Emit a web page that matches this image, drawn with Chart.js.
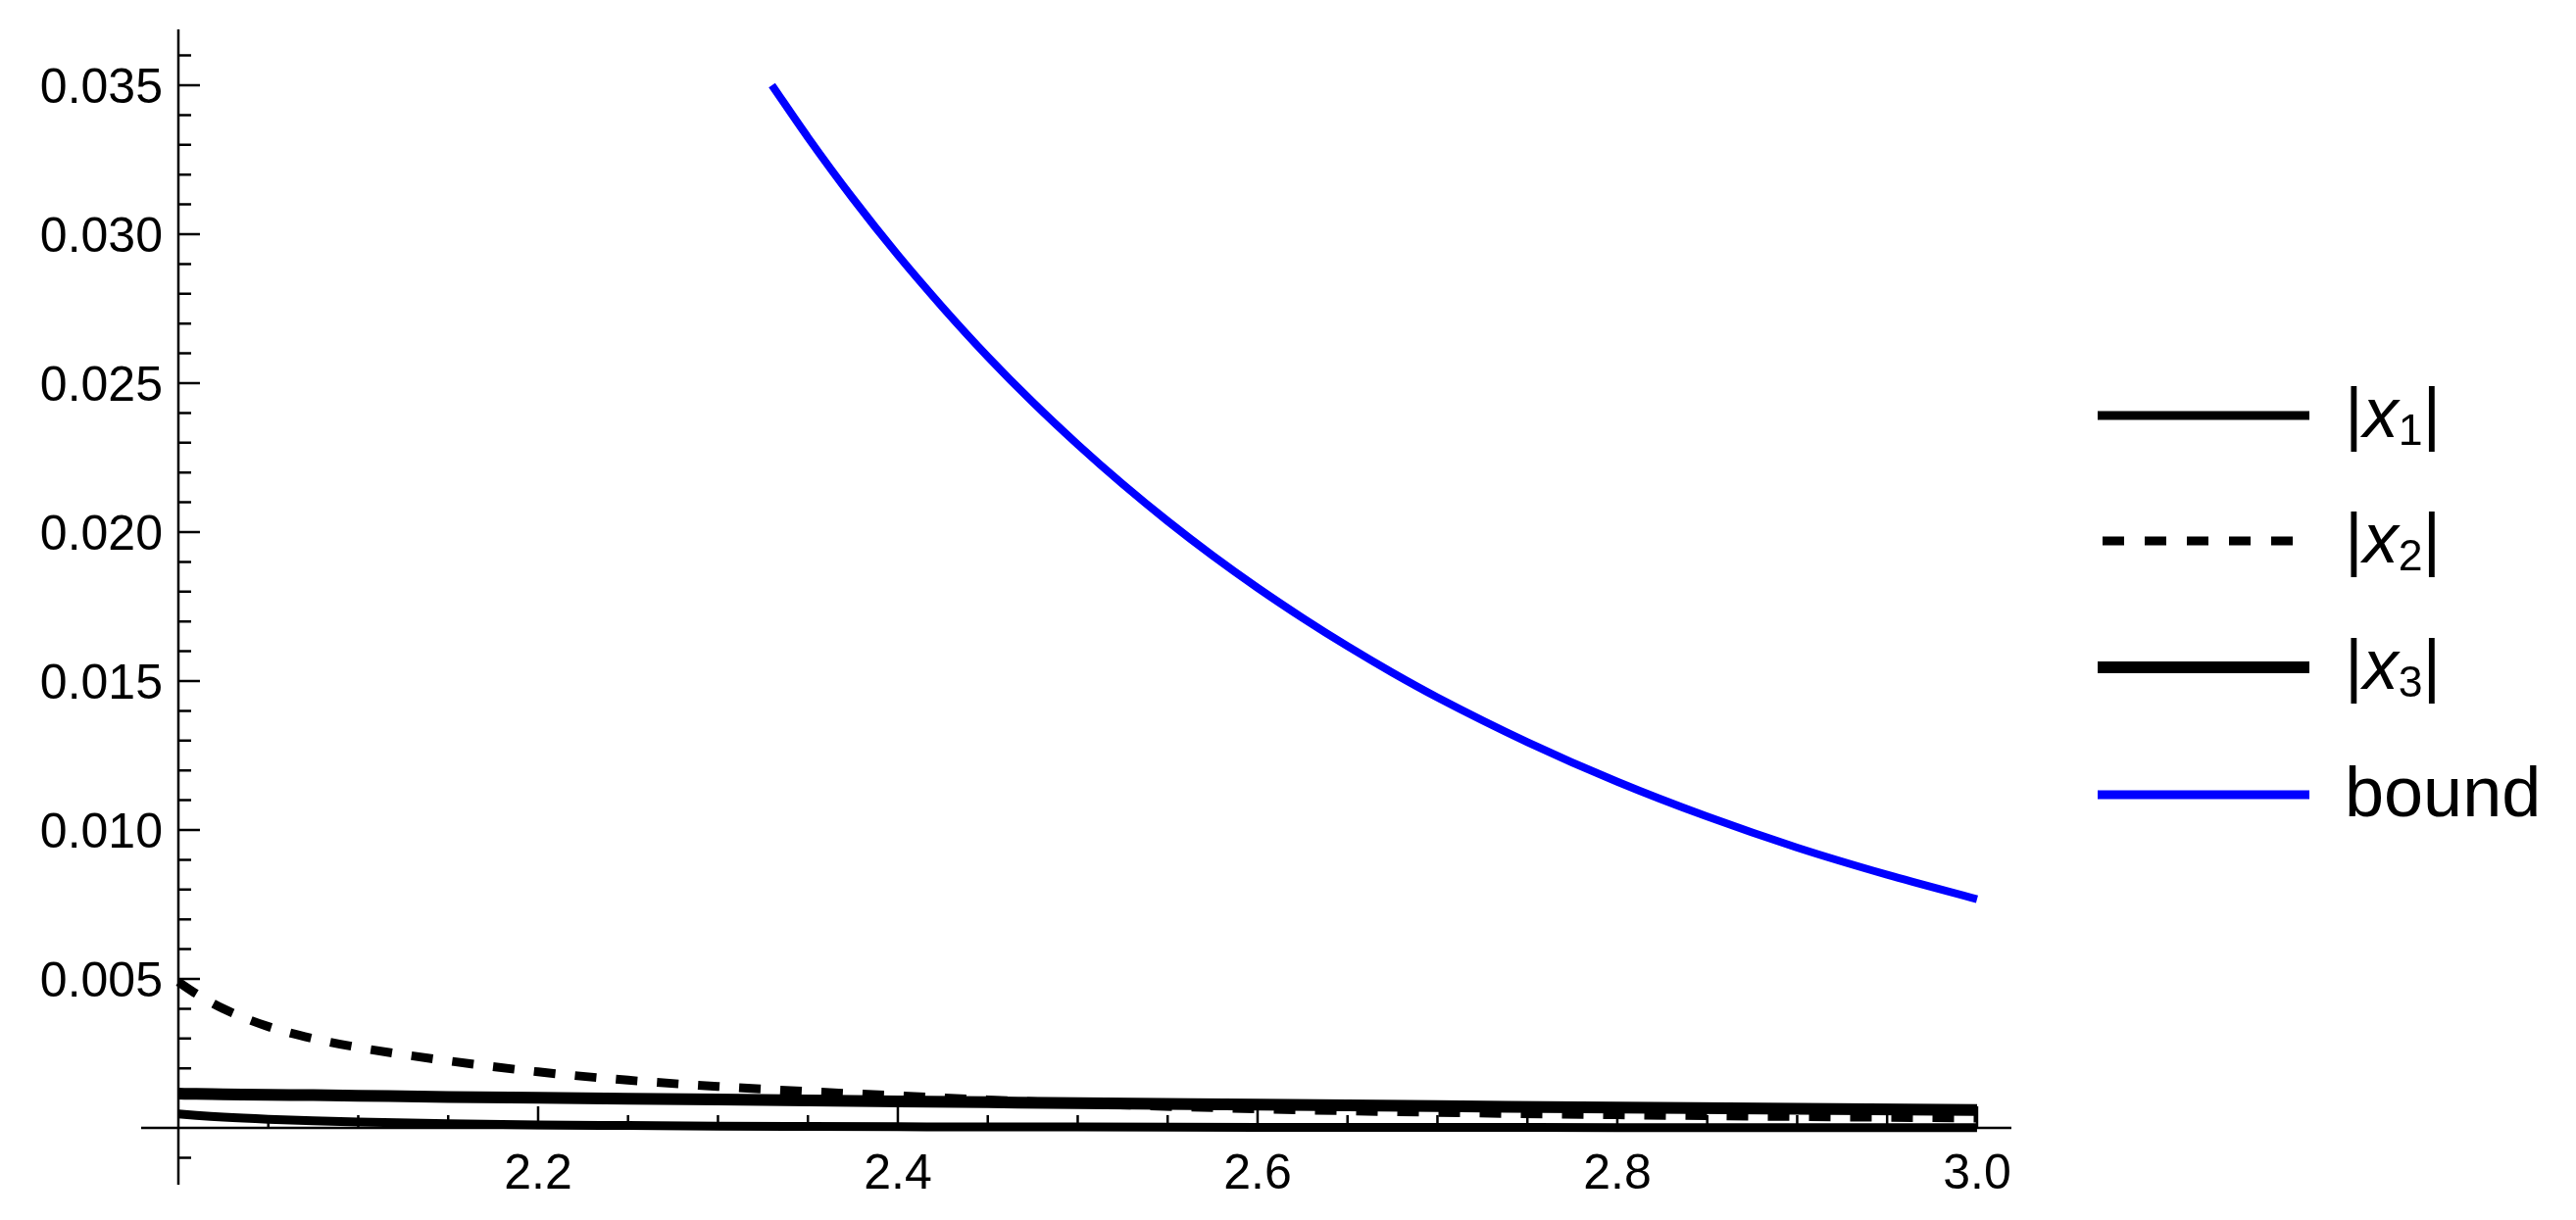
<!DOCTYPE html>
<html lang="en">
<head>
    <meta charset="UTF-8">
    <title>|x1|, |x2|, |x3| and bound</title>
    <script src="https://cdn.jsdelivr.net/npm/chart.js"></script>
    <style>
        body {
            margin: 0;
            background: #ffffff;
        }

        #wrap {
            position: relative;
            width: 2628px;
            height: 1245px;
        }

        .legend-row {
            position: absolute;
            left: 2140px;
            height: 72px;
            line-height: 72px;
            font-size: 72px;
            font-family: "Liberation Sans", Arial, sans-serif;
            color: #000;
            white-space: nowrap;
        }

        .legend-row svg {
            vertical-align: middle;
            position: relative;
            top: -3px;
            margin-right: 36px;
        }

        .legend-row sub {
            font-size: 0.62em;
            vertical-align: -0.19em;
            line-height: 0;
        }
    </style>
</head>
<body>
    <div id="wrap">
        <canvas id="chart" width="2628" height="1245"></canvas>
        <div id="legend"></div>
    </div>

    <script>
        // curve values
        const xGrid = [2.0, 2.01, 2.025, 2.05, 2.075, 2.1, 2.15, 2.2, 2.25, 2.3, 2.35, 2.4, 2.45, 2.5, 2.6, 2.7, 2.8, 2.9, 3.0];
        const absX1 = [0.00047, 0.00042, 0.00036, 0.00029, 0.00024, 0.00020, 0.00014, 0.00010, 0.00008, 0.00006, 0.00005, 0.00004, 0.00003, 0.00003, 0.00002, 0.00002, 0.00001, 0.00001, 0.00001];
        const absX2 = [0.0049, 0.0045, 0.0040, 0.0034, 0.0030, 0.0027, 0.00225, 0.00188, 0.00160, 0.00139, 0.00122, 0.00108, 0.00094, 0.00082, 0.00064, 0.00052, 0.00044, 0.00038, 0.00033];
        const absX3 = [0.00115, 0.00114, 0.00113, 0.00111, 0.00110, 0.00108, 0.00104, 0.00101, 0.00098, 0.00095, 0.00092, 0.00089, 0.00086, 0.00083, 0.00078, 0.00073, 0.00068, 0.00064, 0.00060];

        const boundX = [2.33, 2.35, 2.375, 2.4, 2.425, 2.45, 2.475, 2.5, 2.525, 2.55, 2.575, 2.6, 2.625, 2.65, 2.675, 2.7,
            2.75, 2.8, 2.85, 2.9, 2.95, 3.0];
        const boundVals = [0.0350, 0.03325, 0.0312, 0.0293, 0.02754, 0.02589, 0.02436, 0.02294, 0.02161, 0.02037, 0.01921, 0.01813, 0.01712, 0.01617, 0.01528, 0.01445,
            0.01295, 0.01162, 0.01045, 0.00941, 0.0085, 0.00768];

        const seriesLabels = ['|x₁|', '|x₂|', '|x₃|', 'bound'];

        // axis ticks
        const xMajorTicks = [2.2, 2.4, 2.6, 2.8, 3.0];
        const xTickLabels = ['2.2', '2.4', '2.6', '2.8', '3.0'];
        const xMinorTicks = [2.05, 2.1, 2.15, 2.25, 2.3, 2.35, 2.45, 2.5, 2.55, 2.65, 2.7, 2.75, 2.85, 2.9, 2.95];
        const yMajorTicks = [0.005, 0.010, 0.015, 0.020, 0.025, 0.030, 0.035];
        const yTickLabels = ['0.005', '0.010', '0.015', '0.020', '0.025', '0.030', '0.035'];
        const yMinorTicks = [-0.001, 0.001, 0.002, 0.003, 0.004, 0.006, 0.007, 0.008, 0.009,
            0.011, 0.012, 0.013, 0.014, 0.016, 0.017, 0.018, 0.019, 0.021, 0.022, 0.023, 0.024,
            0.026, 0.027, 0.028, 0.029, 0.031, 0.032, 0.033, 0.034, 0.036];

        const toPoints = (xs, ys) => xs.map((x, i) => ({ x: x, y: ys[i] }));

        // Mathematica style axes crossing at (2, 0), ticks pointing inward
        const axesPlugin = {
            id: 'mmaAxes',
            beforeDatasetsDraw(chart) {
                const ctx = chart.ctx;
                const xs = chart.scales.x;
                const ys = chart.scales.y;
                const x0 = xs.getPixelForValue(2);
                const y0 = ys.getPixelForValue(0);

                ctx.save();
                ctx.strokeStyle = '#000';
                ctx.lineWidth = 2.5;
                ctx.beginPath();
                ctx.moveTo(xs.left, y0);
                ctx.lineTo(xs.right, y0);
                ctx.moveTo(x0, ys.top);
                ctx.lineTo(x0, ys.bottom);

                xMajorTicks.forEach(v => {
                    const p = xs.getPixelForValue(v);
                    ctx.moveTo(p, y0);
                    ctx.lineTo(p, y0 - 22);
                });
                xMinorTicks.forEach(v => {
                    const p = xs.getPixelForValue(v);
                    ctx.moveTo(p, y0);
                    ctx.lineTo(p, y0 - 13);
                });
                yMajorTicks.forEach(v => {
                    const p = ys.getPixelForValue(v);
                    ctx.moveTo(x0, p);
                    ctx.lineTo(x0 + 22, p);
                });
                yMinorTicks.forEach(v => {
                    const p = ys.getPixelForValue(v);
                    ctx.moveTo(x0, p);
                    ctx.lineTo(x0 + 13, p);
                });
                ctx.stroke();

                ctx.fillStyle = '#000';
                ctx.font = '50px "Liberation Sans", Arial, sans-serif';
                ctx.textBaseline = 'alphabetic';
                ctx.textAlign = 'center';
                xMajorTicks.forEach((v, i) => {
                    ctx.fillText(xTickLabels[i], xs.getPixelForValue(v), y0 + 62);
                });
                ctx.textAlign = 'right';
                yMajorTicks.forEach((v, i) => {
                    ctx.fillText(yTickLabels[i], x0 - 16, ys.getPixelForValue(v) + 18);
                });
                ctx.restore();
            }
        };

        const chart = new Chart(document.getElementById('chart'), {
            type: 'line',
            data: {
                datasets: [{
                    label: seriesLabels[0],
                    data: toPoints(xGrid, absX1),
                    borderColor: '#000000',
                    borderWidth: 9,
                    order: 4
                }, {
                    label: seriesLabels[1],
                    data: toPoints(xGrid, absX2),
                    borderColor: '#000000',
                    borderWidth: 9,
                    borderDash: [22, 20],
                    order: 3
                }, {
                    label: seriesLabels[2],
                    data: toPoints(xGrid, absX3),
                    borderColor: '#000000',
                    borderWidth: 12,
                    order: 2
                }, {
                    label: seriesLabels[3],
                    data: toPoints(boundX, boundVals),
                    borderColor: '#0000ff',
                    borderWidth: 8,
                    order: 1
                }]
            },
            options: {
                responsive: false,
                animation: false,
                layout: { padding: { left: 144, right: 576, top: 30, bottom: 36 } },
                elements: {
                    point: { radius: 0 },
                    line: { cubicInterpolationMode: 'monotone', fill: false }
                },
                plugins: {
                    legend: { display: false },
                    tooltip: { enabled: false }
                },
                scales: {
                    x: { type: 'linear', display: false, min: 1.9793, max: 3.0191 },
                    y: { type: 'linear', display: false, min: -0.001908, max: 0.036875 }
                }
            },
            plugins: [axesPlugin]
        });

        // legend built from the chart datasets
        const legendTops = [385, 513, 642, 772];
        const formatLabel = label => label
            .replace(/x([₁₂₃])/, (m, s) => '<i>x</i><sub>' + ('₁₂₃'.indexOf(s) + 1) + '</sub>');

        const legend = document.getElementById('legend');
        chart.data.datasets.forEach((ds, i) => {
            const row = document.createElement('div');
            row.className = 'legend-row';
            row.style.top = legendTops[i] + 'px';
            const w = ds.borderWidth === 8 ? 9 : ds.borderWidth;
            const dash = ds.borderDash ? ' stroke-dasharray="22 21"' : '';
            const x1 = ds.borderDash ? 5 : 0;
            row.innerHTML = '<svg width="216" height="16"><line x1="' + x1 + '" y1="8" x2="' + (ds.borderDash ? 199 : 216) +
                '" y2="8" stroke="' + ds.borderColor + '" stroke-width="' + w + '"' + dash + '/></svg>' +
                '<span>' + formatLabel(ds.label) + '</span>';
            legend.appendChild(row);
        });
    </script>
</body>
</html>
